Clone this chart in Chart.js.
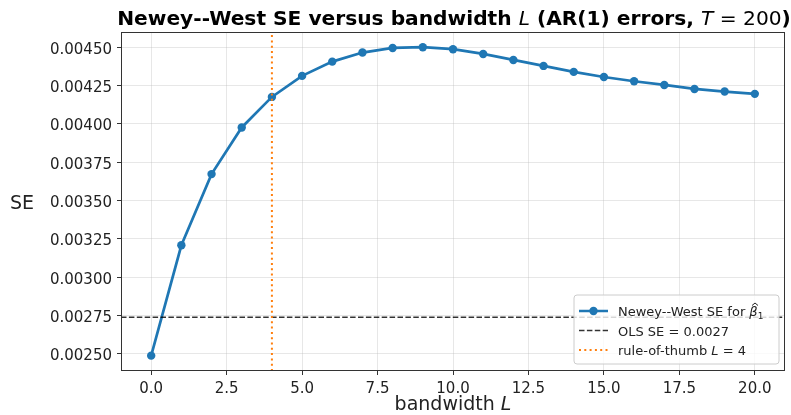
<!DOCTYPE html>
<html>
<head>
<meta charset="utf-8">
<script src="https://cdn.jsdelivr.net/npm/chart.js@4/dist/chart.umd.min.js"></script>
<style>
html,body{margin:0;padding:0;background:#fff;}
canvas{display:block;}
</style>
</head>
<body>
<canvas id="c" width="791" height="415"></canvas>
<script>
// ---- data ----
const lags = [0,1,2,3,4,5,6,7,8,9,10,11,12,13,14,15,16,17,18,19,20];
const nwSE = [0.002489,0.003208,0.003672,0.003976,0.004175,0.004312,0.004405,0.004464,0.004494,0.004499,
              0.004486,0.004455,0.004416,0.004377,0.004338,0.004305,0.004277,0.004253,0.004227,0.004210,0.004195];
const olsSE = 0.00274;
const ruleL = 4;
const xTicks = [0,2.5,5,7.5,10,12.5,15,17.5,20];
const yTicks = [0.0025,0.00275,0.003,0.00325,0.0035,0.00375,0.004,0.00425,0.0045];
const xRange = [-1, 21];
const yRange = [0.002389, 0.004598];

const FONT = "'DejaVu Sans', sans-serif";

function drawRich(ctx, segs, x, y, align) {
  let total = 0;
  segs.forEach(s => { ctx.font = s.f; s.w = ctx.measureText(s.t).width; total += s.w; });
  let cx = align === 'center' ? x - total / 2 : (align === 'right' ? x - total : x);
  ctx.textBaseline = 'alphabetic';
  ctx.textAlign = 'left';
  segs.forEach(s => {
    ctx.font = s.f; ctx.fillStyle = s.c || '#000';
    ctx.fillText(s.t, cx, y + (s.dy || 0));
    if (s.hat) {
      const hx = cx + s.w / 2 + 1.5, hy = y - 13;
      ctx.save();
      ctx.strokeStyle = s.c || '#000'; ctx.lineWidth = 1;
      ctx.beginPath(); ctx.moveTo(hx - 3, hy + 2.5); ctx.lineTo(hx, hy); ctx.lineTo(hx + 3, hy + 2.5); ctx.stroke();
      ctx.restore();
    }
    cx += s.w;
  });
  return total;
}

const decor = {
  id: 'decor',
  afterDatasetsDraw(chart) {
    const ctx = chart.ctx, a = chart.chartArea;
    ctx.save();
    // spines
    ctx.strokeStyle = '#333';
    ctx.lineWidth = 1;
    ctx.strokeRect(Math.round(a.left) + 0.5, Math.round(a.top) + 0.5, Math.round(a.right - a.left) - 1, Math.round(a.bottom - a.top) - 1);

    // legend
    const lx = 574, ly = 295, lw = 205, lh = 69, r = 3;
    ctx.beginPath();
    ctx.moveTo(lx + r, ly);
    ctx.arcTo(lx + lw, ly, lx + lw, ly + lh, r);
    ctx.arcTo(lx + lw, ly + lh, lx, ly + lh, r);
    ctx.arcTo(lx, ly + lh, lx, ly, r);
    ctx.arcTo(lx, ly, lx + lw, ly, r);
    ctx.closePath();
    ctx.fillStyle = 'rgba(255,255,255,0.8)';
    ctx.fill();
    ctx.strokeStyle = '#cccccc';
    ctx.lineWidth = 1;
    ctx.stroke();

    const hx0 = 579, hx1 = 608, tx = 618;
    const rows = [311, 330.5, 350];
    ctx.strokeStyle = '#1f77b4'; ctx.lineWidth = 2.5; ctx.setLineDash([]);
    ctx.beginPath(); ctx.moveTo(hx0, rows[0]); ctx.lineTo(hx1, rows[0]); ctx.stroke();
    ctx.fillStyle = '#1f77b4';
    ctx.beginPath(); ctx.arc((hx0 + hx1) / 2, rows[0], 4.2, 0, Math.PI * 2); ctx.fill();
    ctx.strokeStyle = 'rgba(0,0,0,0.8)'; ctx.lineWidth = 1.5; ctx.setLineDash([5.5, 2.4]);
    ctx.beginPath(); ctx.moveTo(hx0, rows[1]); ctx.lineTo(hx1, rows[1]); ctx.stroke();
    ctx.strokeStyle = '#ff7f0e'; ctx.lineWidth = 2; ctx.setLineDash([2, 3.3]);
    ctx.beginPath(); ctx.moveTo(hx0, rows[2]); ctx.lineTo(hx1, rows[2]); ctx.stroke();
    ctx.setLineDash([]);

    const f = "13px " + FONT, fi = "italic 13px " + FONT, fs = "9px " + FONT;
    drawRich(ctx, [{t: 'Newey--West SE for ', f: f, c: '#222'}, {t: 'β', f: fi, hat: true, c: '#222'}, {t: '1', f: fs, dy: 3, c: '#222'}], tx, rows[0] + 5);
    drawRich(ctx, [{t: 'OLS SE = 0.0027', f: f, c: '#222'}], tx, rows[1] + 5);
    drawRich(ctx, [{t: 'rule-of-thumb ', f: f, c: '#222'}, {t: 'L', f: fi, c: '#222'}, {t: ' = 4', f: f, c: '#222'}], tx, rows[2] + 5);
    ctx.restore();
  },
  afterDraw(chart) {
    const ctx = chart.ctx, a = chart.chartArea;
    const cx = (a.left + a.right) / 2;
    ctx.save();
    // tick labels, positioned by the chart's own scales
    const tf = "15px " + FONT;
    const xs = chart.scales.x, ys = chart.scales.y;
    xs.ticks.forEach(t => {
      drawRich(ctx, [{t: Number(t.value).toFixed(1), f: tf, c: '#222'}], xs.getPixelForValue(t.value), a.bottom + 22, 'center');
    });
    ys.ticks.forEach(t => {
      drawRich(ctx, [{t: Number(t.value).toFixed(5), f: tf, c: '#222'}], a.left - 9, ys.getPixelForValue(t.value) + 6.5, 'right');
    });
    // title
    const tb = "bold 20.2px " + FONT, ti = "italic 20.2px " + FONT, tr = "20.2px " + FONT;
    drawRich(ctx, [
      {t: 'Newey--West SE versus bandwidth ', f: tb},
      {t: 'L', f: ti},
      {t: ' (AR(1) errors, ', f: tb},
      {t: 'T', f: ti},
      {t: ' = 200', f: tr},
      {t: ')', f: tb}
    ], cx + 1, 25, 'center');
    // x label
    drawRich(ctx, [{t: 'bandwidth ', f: "19px " + FONT, c: '#222'}, {t: 'L', f: "italic 19px " + FONT, c: '#222'}], cx, 410, 'center');
    // y label (horizontal)
    drawRich(ctx, [{t: 'SE', f: "19px " + FONT, c: '#222'}], 22, (a.top + a.bottom) / 2 + 7, 'center');
    ctx.restore();
  }
};

new Chart(document.getElementById('c'), {
  type: 'line',
  data: {
    datasets: [
      {
        label: 'Newey--West SE',
        data: lags.map((l, i) => ({x: l, y: nwSE[i]})),
        borderColor: '#1f77b4', backgroundColor: '#1f77b4',
        borderWidth: 2.7, pointRadius: 4.2, pointHoverRadius: 4.2,
        pointBorderWidth: 0, tension: 0, order: 3
      },
      {
        label: 'OLS SE',
        data: [{x: xRange[0], y: olsSE}, {x: xRange[1], y: olsSE}],
        borderColor: 'rgba(0,0,0,0.8)', borderDash: [5.5, 2.4],
        borderWidth: 1.5, pointRadius: 0, order: 2
      },
      {
        label: 'rule-of-thumb',
        data: [{x: ruleL, y: yRange[0]}, {x: ruleL, y: yRange[1]}],
        borderColor: '#ff7f0e', borderDash: [2, 3.3],
        borderWidth: 2, pointRadius: 0, order: 1
      }
    ]
  },
  options: {
    responsive: false,
    animation: false,
    events: [],
    layout: {padding: {top: 32, right: 6, left: 0, bottom: 0}},
    plugins: {legend: {display: false}, title: {display: false}, tooltip: {enabled: false}},
    scales: {
      x: {
        type: 'linear', min: xRange[0], max: xRange[1],
        afterBuildTicks: s => { s.ticks = xTicks.map(v => ({value: v})); },
        afterFit: s => { s.height = 44; },
        grid: {color: 'rgba(176,176,176,0.3)', lineWidth: 1, tickLength: 4, tickColor: '#333', drawTicks: true},
        border: {display: false},
        ticks: {display: false, autoSkip: false, maxRotation: 0}
      },
      y: {
        type: 'linear', min: yRange[0], max: yRange[1],
        afterBuildTicks: s => { s.ticks = yTicks.map(v => ({value: v})); },
        afterFit: s => { s.width = 121; },
        grid: {color: 'rgba(176,176,176,0.3)', lineWidth: 1, tickLength: 4, tickColor: '#333', drawTicks: true},
        border: {display: false},
        ticks: {display: false, autoSkip: false}
      }
    }
  },
  plugins: [decor]
});
</script>
</body>
</html>
